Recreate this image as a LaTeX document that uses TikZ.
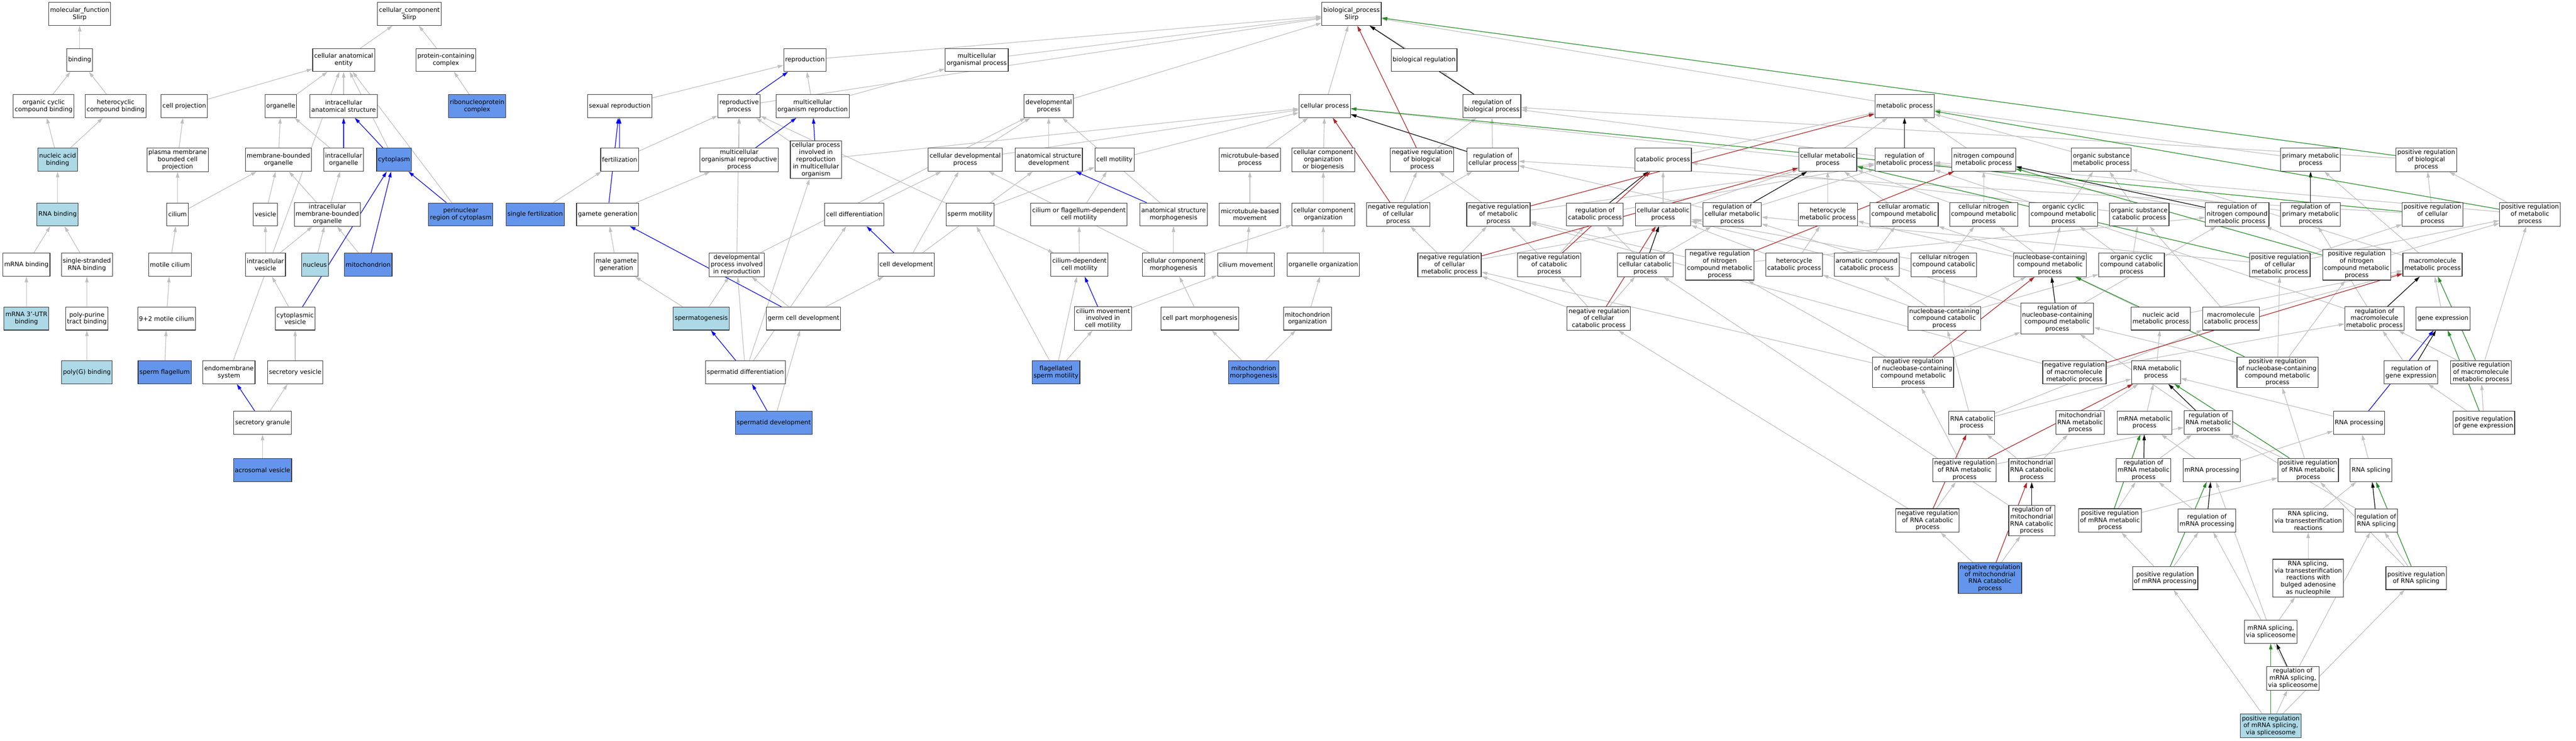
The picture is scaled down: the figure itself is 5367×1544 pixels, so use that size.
\documentclass[tikz,border=0pt]{standalone}
\usepackage{fontspec}
\setmainfont{DejaVu Sans}
\usetikzlibrary{arrows.meta, backgrounds}
\definecolor{edgegray}{RGB}{192,192,192}
\definecolor{negred}{RGB}{178,34,34}
\definecolor{posgreen}{RGB}{34,139,34}
\definecolor{cornflower}{RGB}{100,149,237}
\definecolor{paleblue}{RGB}{173,216,230}
\tikzset{
  term/.style={draw=black!80, line width=1.2pt, fill=white, align=center, minimum height=48pt,
    inner xsep=3pt, inner ysep=3.5pt, font=\fontsize{12.9}{14.8}\selectfont},
  hit/.style={term, fill=cornflower},
  light/.style={term, fill=paleblue},
  isa/.style={draw=edgegray, line width=1.3pt, ->},
  partof/.style={isa, draw=blue},
  regs/.style={isa, draw=black},
  negreg/.style={isa, draw=negred},
  posreg/.style={isa, draw=posgreen}
}

\begin{document}
\begin{tikzpicture}[x=1pt, y=-1pt, >={Triangle[length=12pt,width=7pt]}]
  \useasboundingbox (0,0) rectangle (5367,1544);

  % molecular function
  \node[term] (mf) at (166,29) {molecular\_function\\Slirp};
  \node[term] (bind) at (166,125) {binding};
  \node[term] (occb) at (91,221) {organic cyclic\\compound binding};
  \node[term] (hcb) at (241,221) {heterocyclic\\compound binding};
  \node[light] (nab) at (120,333) {nucleic acid\\binding};
  \node[light] (rnab) at (120,447) {RNA binding};
  \node[term] (mrnab) at (55,552) {mRNA binding};
  \node[term] (ssrnab) at (181,552) {single-stranded\\RNA binding};
  \node[light] (utrb) at (55,664) {mRNA 3'-UTR\\binding};
  \node[term] (pptb) at (181,664) {poly-purine\\tract binding};
  \node[light] (polyg) at (181,776) {poly(G) binding};

  % cellular component
  \node[term] (cc) at (853,29) {cellular\_component\\Slirp};
  \node[term] (cae) at (716,125) {cellular anatomical\\entity};
  \node[term] (pcc) at (929,125) {protein-containing\\complex};
  \node[term] (cproj) at (384,221) {cell projection};
  \node[term] (org) at (585,221) {organelle};
  \node[term] (ias) at (716,221) {intracellular\\anatomical structure};
  \node[hit] (rnp) at (994,221) {ribonucleoprotein\\complex};
  \node[term] (pmbcp) at (370,333) {plasma membrane\\bounded cell\\projection};
  \node[term] (mbo) at (580,333) {membrane-bounded\\organelle};
  \node[term] (io) at (716,333) {intracellular\\organelle};
  \node[hit] (cyto) at (821,333) {cytoplasm};
  \node[term] (cilium) at (370,447) {cilium};
  \node[term] (vesicle) at (553,447) {vesicle};
  \node[term] (imbo) at (682,447) {intracellular\\membrane-bounded\\organelle};
  \node[hit] (pnr) at (960,447) {perinuclear\\region of cytoplasm};
  \node[term] (mcil) at (354,552) {motile cilium};
  \node[term] (ivesicle) at (553,552) {intracellular\\vesicle};
  \node[light] (nucleus) at (656,552) {nucleus};
  \node[hit] (mito) at (767,552) {mitochondrion};
  \node[term] (mcil92) at (347,664) {9+2 motile cilium};
  \node[term] (cvesicle) at (615,664) {cytoplasmic\\vesicle};
  \node[hit] (spflag) at (343,776) {sperm flagellum};
  \node[term] (endo) at (477,776) {endomembrane\\system};
  \node[term] (svesicle) at (615,776) {secretory vesicle};
  \node[term] (sgran) at (547,881) {secretory granule};
  \node[hit] (acro) at (547,980) {acrosomal vesicle};

  % biological process: reproduction and development
  \node[term] (bp) at (2816,29) {biological\_process\\Slirp};
  \node[term] (repro) at (1677,125) {reproduction};
  \node[term] (mop) at (2035,125) {multicellular\\organismal process};
  \node[term] (breg) at (2967,125) {biological regulation};
  \node[term] (sexrep) at (1291,221) {sexual reproduction};
  \node[term] (rp) at (1540,221) {reproductive\\process};
  \node[term] (mor) at (1693,221) {multicellular\\organism reproduction};
  \node[term] (dp) at (2185,221) {developmental\\process};
  \node[term] (cp) at (2760,221) {cellular process};
  \node[term] (rbp) at (3108,221) {regulation of\\biological process};
  \node[term] (fert) at (1291,333) {fertilization};
  \node[term] (morp) at (1540,333) {multicellular\\organismal reproductive\\process};
  \node[term] (cpirmo) at (1700,333) {cellular process\\involved in\\reproduction\\in multicellular\\organism};
  \node[term] (cdp) at (2011,333) {cellular developmental\\process};
  \node[term] (asd) at (2185,333) {anatomical structure\\development};
  \node[term] (cmot) at (2322,333) {cell motility};
  \node[term] (mtbp) at (2604,333) {microtubule-based\\process};
  \node[term] (ccob) at (2757,333) {cellular component\\organization\\or biogenesis};
  \node[hit] (sfert) at (1115,447) {single fertilization};
  \node[term] (gamgen) at (1266,447) {gamete generation};
  \node[term] (celldiff) at (1780,447) {cell differentiation};
  \node[term] (spmot) at (2021,447) {sperm motility};
  \node[term] (cfdcm) at (2248,447) {cilium or flagellum-dependent\\cell motility};
  \node[term] (asm) at (2445,447) {anatomical structure\\morphogenesis};
  \node[term] (mtbm) at (2604,447) {microtubule-based\\movement};
  \node[term] (cco) at (2757,447) {cellular component\\organization};
  \node[term] (mgg) at (1284,552) {male gamete\\generation};
  \node[term] (dpir) at (1535,552) {developmental\\process involved\\in reproduction};
  \node[term] (celldev) at (1888,552) {cell development};
  \node[term] (cdcm) at (2249,552) {cilium-dependent\\cell motility};
  \node[term] (ccm) at (2445,552) {cellular component\\morphogenesis};
  \node[term] (cilmov) at (2596,552) {cilium movement};
  \node[term] (orgorg) at (2757,552) {organelle organization};
  \node[light] (spgen) at (1461,664) {spermatogenesis};
  \node[term] (gcd) at (1674,664) {germ cell development};
  \node[term] (cmicm) at (2298,664) {cilium movement\\involved in\\cell motility};
  \node[term] (cpm) at (2500,664) {cell part morphogenesis};
  \node[term] (mitoorg) at (2724,664) {mitochondrion\\organization};
  \node[term] (spdiff) at (1553,776) {spermatid differentiation};
  \node[hit] (fsm) at (2200,776) {flagellated\\sperm motility};
  \node[hit] (mitomorph) at (2612,776) {mitochondrion\\morphogenesis};
  \node[hit] (spdev) at (1612,881) {spermatid development};

  % biological process: metabolism and its regulation
  \node[term] (mp) at (3968,221) {metabolic process};
  \node[term] (nrbp) at (2963,333) {negative regulation\\of biological\\process};
  \node[term] (rcp) at (3110,333) {regulation of\\cellular process};
  \node[term] (catp) at (3465,333) {catabolic process};
  \node[term] (cmp) at (3808,333) {cellular metabolic\\process};
  \node[term] (rmp) at (3968,333) {regulation of\\metabolic process};
  \node[term] (ncmp) at (4133,333) {nitrogen compound\\metabolic process};
  \node[term] (osmp) at (4378,333) {organic substance\\metabolic process};
  \node[term] (pmp) at (4814,333) {primary metabolic\\process};
  \node[term] (prbp) at (5055,333) {positive regulation\\of biological\\process};
  \node[term] (nrcp) at (2913,447) {negative regulation\\of cellular\\process};
  \node[term] (nrmp) at (3122,447) {negative regulation\\of metabolic\\process};
  \node[term] (rcatp) at (3323,447) {regulation of\\catabolic process};
  \node[term] (ccatp) at (3465,447) {cellular catabolic\\process};
  \node[term] (rcmp) at (3609,447) {regulation of\\cellular metabolic\\process};
  \node[term] (hmp) at (3808,447) {heterocycle\\metabolic process};
  \node[term] (camp) at (3967,447) {cellular aromatic\\compound metabolic\\process};
  \node[term] (cncmp) at (4133,447) {cellular nitrogen\\compound metabolic\\process};
  \node[term] (occmp) at (4299,447) {organic cyclic\\compound metabolic\\process};
  \node[term] (oscatp) at (4457,447) {organic substance\\catabolic process};
  \node[term] (rncmp) at (4661,447) {regulation of\\nitrogen compound\\metabolic process};
  \node[term] (rpmp) at (4814,447) {regulation of\\primary metabolic\\process};
  \node[term] (prcp) at (5068,447) {positive regulation\\of cellular\\process};
  \node[term] (prmp) at (5271,447) {positive regulation\\of metabolic\\process};
  \node[term] (nrcmp) at (3020,552) {negative regulation\\of cellular\\metabolic process};
  \node[term] (nrcatp) at (3228,552) {negative regulation\\of catabolic\\process};
  \node[term] (rccatp) at (3428,552) {regulation of\\cellular catabolic\\process};
  \node[term] (nrncmp) at (3583,552) {negative regulation\\of nitrogen\\compound metabolic\\process};
  \node[term] (hcatp) at (3738,552) {heterocycle\\catabolic process};
  \node[term] (acatp) at (3889,552) {aromatic compound\\catabolic process};
  \node[term] (cncatp) at (4050,552) {cellular nitrogen\\compound catabolic\\process};
  \node[term] (nccmp) at (4271,552) {nucleobase-containing\\compound metabolic\\process};
  \node[term] (occatp) at (4441,552) {organic cyclic\\compound catabolic\\process};
  \node[term] (prcmp) at (4750,552) {positive regulation\\of cellular\\metabolic process};
  \node[term] (prncmp) at (4910,552) {positive regulation\\of nitrogen\\compound metabolic\\process};
  \node[term] (mmp) at (5068,552) {macromolecule\\metabolic process};
  \node[term] (nrccatp) at (3331,664) {negative regulation\\of cellular\\catabolic process};
  \node[term] (nccatp) at (4051,664) {nucleobase-containing\\compound catabolic\\process};
  \node[term] (rnccmp) at (4286,664) {regulation of\\nucleobase-containing\\compound metabolic\\process};
  \node[term] (nametp) at (4502,664) {nucleic acid\\metabolic process};
  \node[term] (mcatp) at (4648,664) {macromolecule\\catabolic process};
  \node[term] (rmmp) at (4947,664) {regulation of\\macromolecule\\metabolic process};
  \node[term] (genex) at (5090,664) {gene expression};
  \node[term] (nrnccmp) at (3986,776) {negative regulation\\of nucleobase-containing\\compound metabolic\\process};
  \node[term] (nrmmp) at (4322,776) {negative regulation\\of macromolecule\\metabolic process};
  \node[term] (rnamp) at (4492,776) {RNA metabolic\\process};
  \node[term] (prnccmp) at (4745,776) {positive regulation\\of nucleobase-containing\\compound metabolic\\process};
  \node[term] (rgenex) at (5023,776) {regulation of\\gene expression};
  \node[term] (prmmp) at (5169,776) {positive regulation\\of macromolecule\\metabolic process};
  \node[term] (rnacatp) at (4108,881) {RNA catabolic\\process};
  \node[term] (mtrnamp) at (4334,881) {mitochondrial\\RNA metabolic\\process};
  \node[term] (mrnamp) at (4468,881) {mRNA metabolic\\process};
  \node[term] (rrnamp) at (4601,881) {regulation of\\RNA metabolic\\process};
  \node[term] (rnaproc) at (4915,881) {RNA processing};
  \node[term] (prgenex) at (5175,881) {positive regulation\\of gene expression};
  \node[term] (nrrnamp) at (4093,980) {negative regulation\\of RNA metabolic\\process};
  \node[term] (mtrnacatp) at (4233,980) {mitochondrial\\RNA catabolic\\process};
  \node[term] (rmrnamp) at (4466,980) {regulation of\\mRNA metabolic\\process};
  \node[term] (mrnaproc) at (4608,980) {mRNA processing};
  \node[term] (prrnamp) at (4809,980) {positive regulation\\of RNA metabolic\\process};
  \node[term] (rnasplic) at (4940,980) {RNA splicing};
  \node[term] (nrrnacatp) at (4016,1085) {negative regulation\\of RNA catabolic\\process};
  \node[term] (rmtrnacatp) at (4233,1085) {regulation of\\mitochondrial\\RNA catabolic\\process};
  \node[term] (prmrnamp) at (4396,1085) {positive regulation\\of mRNA metabolic\\process};
  \node[term] (rmrnaproc) at (4598,1085) {regulation of\\mRNA processing};
  \node[term] (rnaspte) at (4809,1085) {RNA splicing,\\via transesterification\\reactions};
  \node[term] (rrnasplic) at (4951,1085) {regulation of\\RNA splicing};
  \node[hit] (nrmtrnacatp) at (4146,1205) {negative regulation\\of mitochondrial\\RNA catabolic\\process};
  \node[term] (prmrnaproc) at (4511,1205) {positive regulation\\of mRNA processing};
  \node[term] (rnasptba) at (4809,1205) {RNA splicing,\\via transesterification\\reactions with\\bulged adenosine\\as nucleophile};
  \node[term] (prrnasplic) at (5034,1205) {positive regulation\\of RNA splicing};
  \node[term] (mrnaspl) at (4731,1317) {mRNA splicing,\\via spliceosome};
  \node[term] (rmrnaspl) at (4777,1414) {regulation of\\mRNA splicing,\\via spliceosome};
  \node[light] (prmrnaspl) at (4731,1513) {positive regulation\\of mRNA splicing,\\via spliceosome};

  \begin{scope}[on background layer]
    \fill[white] (0,0) rectangle (5367,1544);
    % is_a
    \foreach \a/\b in {bind/mf, occb/bind, hcb/bind, nab/occb, nab/hcb, rnab/nab, mrnab/rnab,
        ssrnab/rnab, utrb/mrnab, pptb/ssrnab, polyg/pptb,
        cae/cc, pcc/cc, rnp/pcc, cproj/cae, org/cae, ias/cae, pmbcp/cproj, mbo/org, io/org,
        cyto/cae, cilium/pmbcp, cilium/mbo, vesicle/mbo, imbo/mbo, imbo/io, pnr/cae, mcil/cilium,
        mcil92/mcil, spflag/mcil92, ivesicle/vesicle, ivesicle/imbo, nucleus/imbo, mito/imbo,
        cvesicle/ivesicle, endo/cae, svesicle/cvesicle, sgran/svesicle, acro/sgran,
        breg/bp, cp/bp, mp/bp, repro/bp, mop/bp, dp/bp, rbp/breg, sexrep/repro, rp/bp, mor/repro,
        mor/mop, fert/rp, morp/rp, cpirmo/rp, cpirmo/cp, cdp/dp, cdp/cp, asd/dp, cmot/cp, mtbp/cp,
        ccob/cp, nrbp/rbp, rcp/rbp, catp/mp, cmp/mp, cmp/cp, rmp/rbp, ncmp/mp, osmp/mp, pmp/mp,
        prbp/rbp, gamgen/morp, sfert/fert, celldiff/cdp, spmot/cmot, spmot/rp, cfdcm/cmot, asm/dp,
        mtbm/mtbp, cco/ccob, nrcp/nrbp, nrcp/rcp, nrmp/nrbp, nrmp/rmp, rcatp/rmp, ccatp/catp,
        ccatp/cmp, rcmp/rmp, rcmp/rcp, hmp/cmp, camp/cmp, cncmp/cmp, cncmp/ncmp, occmp/osmp,
        oscatp/osmp, oscatp/catp, rncmp/rmp, rpmp/rmp, prcp/prbp, prcp/rcp, prmp/prbp, prmp/rmp,
        mgg/gamgen, dpir/dp, dpir/rp, celldev/cdp, celldev/asd, cdcm/cfdcm, ccm/asm, ccm/cdp,
        ccm/cco, cilmov/mtbm, orgorg/cco, spmot/cdcm, fsm/spmot, fsm/cdcm, fsm/cmicm,
        spgen/mgg, spgen/dpir, gcd/dpir, gcd/celldev, cmicm/cilmov, cpm/ccm, mitoorg/orgorg,
        mitomorph/cpm, mitomorph/mitoorg, spdiff/dpir, spdiff/celldiff, spdiff/cpirmo, spdev/gcd,
        nrcmp/nrcp, nrcmp/nrmp, nrcmp/rcmp, nrcatp/nrmp, nrcatp/rcatp, rccatp/rcatp, rccatp/rcmp,
        nrncmp/nrmp, nrncmp/rncmp, hcatp/hmp, hcatp/ccatp, acatp/camp, acatp/ccatp, cncatp/cncmp,
        cncatp/ccatp, nccmp/hmp, nccmp/camp, nccmp/cncmp, nccmp/occmp, occatp/occmp,
        occatp/oscatp, prcmp/prcp, prcmp/prmp, prcmp/rcmp, prncmp/prmp, prncmp/rncmp, mmp/osmp,
        mmp/pmp, nrccatp/nrcmp, nrccatp/nrcatp, nrccatp/rccatp, nccatp/nccmp, nccatp/hcatp,
        nccatp/acatp, nccatp/cncatp, nccatp/occatp, rnccmp/rcmp, rnccmp/rncmp, nametp/nccmp,
        nametp/mmp, mcatp/mmp, mcatp/oscatp, rmmp/rmp, rmmp/rpmp, genex/mmp, nrnccmp/nrcmp,
        nrnccmp/nrncmp, nrnccmp/rnccmp, nrmmp/nrmp, nrmmp/rmmp, rnamp/nametp, prnccmp/prcmp,
        prnccmp/prncmp, prnccmp/rnccmp, rgenex/rmmp, prmmp/prmp, prmmp/rmmp, rnacatp/rnamp,
        rnacatp/nccatp, rnacatp/mcatp, mtrnamp/rnamp, mrnamp/rnamp, rrnamp/rnccmp, rnaproc/rnamp,
        prgenex/rgenex, prgenex/prmmp, nrrnamp/nrnccmp, nrrnamp/rrnamp, mtrnacatp/rnacatp,
        mtrnacatp/mtrnamp, rmrnamp/rrnamp, mrnaproc/mrnamp, mrnaproc/rnaproc, prrnamp/prnccmp,
        prrnamp/rrnamp, rnasplic/rnaproc, nrrnacatp/nrrnamp, nrrnacatp/nrccatp, rmtrnacatp/rccatp,
        prmrnamp/rmrnamp, prmrnamp/prrnamp, rmrnaproc/rmrnamp, rnaspte/rnasplic, rrnasplic/rrnamp,
        nrmtrnacatp/nrrnacatp, nrmtrnacatp/rmtrnacatp, prmrnaproc/prmrnamp, prmrnaproc/rmrnaproc,
        rnasptba/rnaspte, prrnasplic/rrnasplic, prrnasplic/prrnamp, mrnaspl/rnasptba,
        mrnaspl/mrnaproc, rmrnaspl/rmrnaproc, rmrnaspl/rrnasplic, prmrnaspl/rmrnaspl,
        prmrnaspl/prmrnaproc, prmrnaspl/prrnasplic}
      \draw[isa] (\a) -- (\b);
    % part_of
    \foreach \a/\b in {io/ias, cyto/ias, pnr/cyto, mito/cyto, cvesicle/cyto, sgran/endo, rp/repro,
        fert/sexrep, gamgen/sexrep, morp/mor, cpirmo/mor, spdiff/spgen, spdev/spdiff, gcd/gamgen,
        celldev/celldiff, asm/asd, cmicm/cdcm, rnaproc/genex}
      \draw[partof] (\a) -- (\b);
    % regulates
    \foreach \a/\b in {rbp/bp, rcp/cp, rmp/mp, rcatp/catp, rcmp/cmp, rncmp/ncmp, rpmp/pmp,
        rccatp/ccatp, rnccmp/nccmp, rmmp/mmp, rgenex/genex, rrnamp/rnamp, rmrnamp/mrnamp,
        rmtrnacatp/mtrnacatp, rmrnaproc/mrnaproc, rrnasplic/rnasplic, rmrnaspl/mrnaspl}
      \draw[regs] (\a) -- (\b);
    % negatively regulates
    \foreach \a/\b in {nrbp/bp, nrcp/cp, nrmp/mp, nrcmp/cmp, nrcatp/catp, nrncmp/ncmp,
        nrccatp/ccatp, nrnccmp/nccmp, nrmmp/mmp, nrrnamp/rnamp, nrrnacatp/rnacatp,
        nrmtrnacatp/mtrnacatp}
      \draw[negreg] (\a) -- (\b);
    % positively regulates
    \foreach \a/\b in {prbp/bp, prcp/cp, prmp/mp, prcmp/cmp, prncmp/ncmp, prnccmp/nccmp,
        prmmp/mmp, prgenex/genex, prrnamp/rnamp, prmrnamp/mrnamp, prmrnaproc/mrnaproc,
        prrnasplic/rnasplic, prmrnaspl/mrnaspl}
      \draw[posreg] (\a) -- (\b);
  \end{scope}
\end{tikzpicture}
\end{document}
